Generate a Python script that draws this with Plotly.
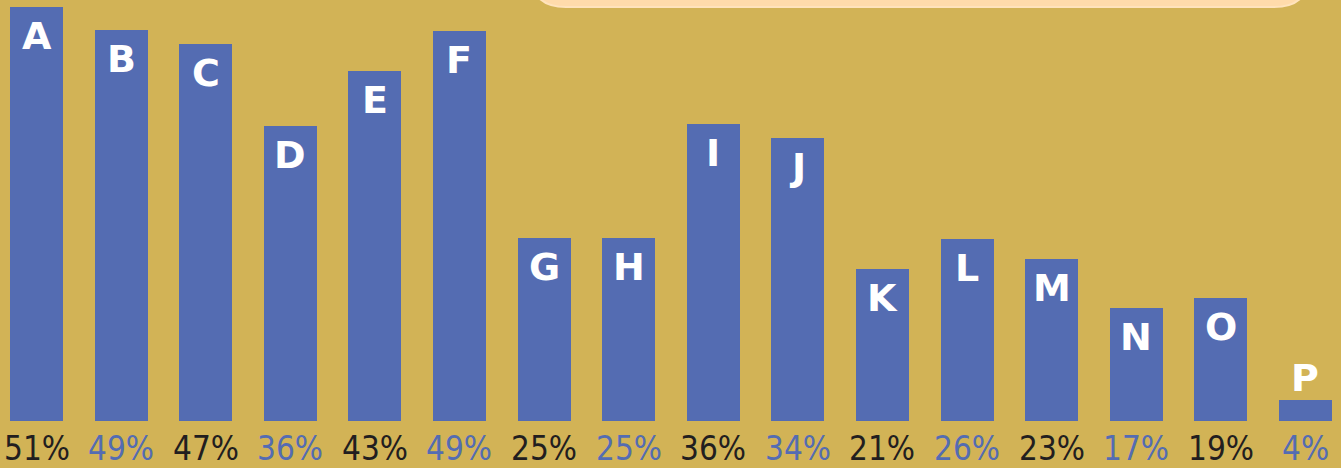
import plotly.graph_objects as go

# letters shown on each bar
categories = ["A", "B", "C", "D", "E", "F", "G", "H",
              "I", "J", "K", "L", "M", "N", "O", "P"]

# bar heights as drawn (in % units)
bar_heights = [51.1, 48.3, 46.6, 36.4, 43.2, 48.2, 22.6, 22.6,
               36.7, 35.0, 18.8, 22.5, 20.0, 14.0, 15.2, 2.6]

# percent labels printed under the bars
pct_labels = ["51%", "49%", "47%", "36%", "43%", "49%", "25%", "25%",
              "36%", "34%", "21%", "26%", "23%", "17%", "19%", "4%"]

BG = "#D2B356"
BAR = "#546CB2"
DARK = "#221E1F"
PEACH = "#FFDBAB"

fig = go.Figure(go.Bar(
    x=categories,
    y=bar_heights,
    marker_color=BAR,
    marker_line_width=0,
    width=0.627,
    hoverinfo="skip",
))

letter_font = dict(family="DejaVu Sans", size=38, color="white", weight="bold")
pct_font = dict(family="DejaVu Sans Condensed", size=33)

annotations = []
for i, (cat, h, lab) in enumerate(zip(categories, bar_heights, pct_labels)):
    # letter inside the top of the bar, or above it if the bar is too short
    inside = h > 8
    annotations.append(dict(
        x=cat, y=h, xref="x", yref="y", text=cat, showarrow=False,
        yanchor="top" if inside else "bottom", yshift=-5 if inside else -2,
        font=letter_font,
    ))
    # percentage below, alternating dark / blue
    annotations.append(dict(
        x=cat, y=0, xref="x", yref="paper", text=lab, showarrow=False,
        yanchor="top", yshift=-6,
        font=dict(pct_font, color=DARK if i % 2 == 0 else BAR),
    ))

# rounded peach panel peeking in at the top
x0, x1 = 530 / 1341, 1310 / 1341
yb, yt = 1 - 7 / 421, 1.3
rx, ry = 36 / 1341, 36 / 421
path = (f"M {x0},{yt} L {x0},{yb + ry} Q {x0},{yb} {x0 + rx},{yb} "
        f"L {x1 - rx},{yb} Q {x1},{yb} {x1},{yb + ry} L {x1},{yt} Z")

fig.update_layout(
    width=1341, height=468,
    margin=dict(l=0, r=0, t=0, b=47),
    paper_bgcolor=BG,
    plot_bgcolor=BG,
    showlegend=False,
    bargap=0,
    xaxis=dict(range=[-0.4314, 15.42], showticklabels=False, showgrid=False,
               zeroline=False, fixedrange=True),
    yaxis=dict(range=[0, 52], visible=False, fixedrange=True),
    annotations=annotations,
    shapes=[dict(type="path", path=path, xref="paper", yref="paper",
                 fillcolor=PEACH, line=dict(color="#FFE3BC", width=2), layer="above")],
)

fig.write_html(
    "out.html",
    config={"displayModeBar": False},
    post_script="document.body.style.margin='0';",
)
